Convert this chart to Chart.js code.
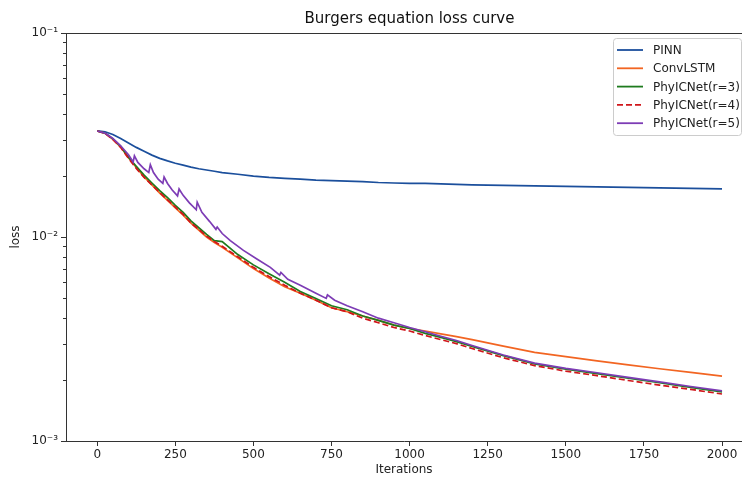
<!DOCTYPE html>
<html>
<head>
<meta charset="utf-8">
<title>Burgers equation loss curve</title>
<script src="https://cdn.jsdelivr.net/npm/chart.js@4.4.1/dist/chart.umd.min.js"></script>
<style>
  html, body { margin: 0; padding: 0; background: #fff; }
  #wrap { width: 742px; height: 478px; }
</style>
</head>
<body>
<div id="wrap"><canvas id="lossChart" width="742" height="478"></canvas></div>
<script>
// iteration grid shared by four of the curves
const iterations = [0, 25, 50, 75, 100, 125, 150, 175, 200, 225, 250, 275, 300, 325, 350, 375, 400,
  450, 500, 550, 600, 650, 700, 750, 800, 850, 900, 950, 1000, 1050, 1100, 1150, 1200,
  1300, 1400, 1500, 1600, 1700, 1800, 1900, 2000];

const pinnLoss = [0.0331, 0.0328, 0.0318, 0.0304, 0.0289, 0.0275, 0.0263, 0.0252, 0.0243, 0.0236, 0.0230, 0.0225, 0.0220, 0.0216, 0.0213, 0.0210, 0.0207,
  0.0203, 0.0199, 0.0196, 0.0194, 0.0192, 0.0190, 0.0189, 0.0188, 0.0187, 0.0185, 0.0184, 0.0183, 0.0183, 0.0182, 0.0181, 0.0180,
  0.0179, 0.0178, 0.0177, 0.0176, 0.0175, 0.0174, 0.0173, 0.0172];

const convLstmLoss = [0.0331, 0.0322, 0.0301, 0.0276, 0.0245, 0.0219, 0.0197, 0.0180, 0.0164, 0.0151, 0.0139, 0.0128, 0.0117, 0.0108, 0.0100, 0.0094, 0.0089,
  0.0079, 0.0070, 0.0063, 0.0057, 0.0053, 0.0049, 0.0045, 0.0043, 0.0041, 0.0039, 0.0037, 0.00356, 0.00346, 0.00335, 0.00325, 0.00314,
  0.00292, 0.00272, 0.00259, 0.00247, 0.00236, 0.00226, 0.00217, 0.00208];

const r3Loss = [0.0331, 0.0323, 0.0303, 0.0278, 0.0246, 0.0222, 0.0201, 0.0184, 0.0169, 0.0156, 0.0143, 0.0132, 0.0120, 0.0111, 0.0103, 0.0096, 0.0095,
  0.0082, 0.0073, 0.0066, 0.0060, 0.0054, 0.0050, 0.0046, 0.0044, 0.0041, 0.0039, 0.0037, 0.00356, 0.00337, 0.00322, 0.00307, 0.00291,
  0.00262, 0.00239, 0.00225, 0.00214, 0.00203, 0.00193, 0.00183, 0.00174];

const r4Loss = [0.0331, 0.0322, 0.0301, 0.0275, 0.0243, 0.0217, 0.0196, 0.0180, 0.0165, 0.0152, 0.0140, 0.0129, 0.0117, 0.0109, 0.0101, 0.0095, 0.0090,
  0.0080, 0.0071, 0.0064, 0.0058, 0.0053, 0.0049, 0.0045, 0.0043, 0.0040, 0.0038, 0.0036, 0.00346, 0.00329, 0.00314, 0.00300, 0.00284,
  0.00256, 0.00234, 0.00220, 0.00209, 0.00198, 0.00188, 0.00179, 0.00170];

// r=5 has its own sampling because of the spikes
const r5Iterations = [0, 25, 50, 75, 100, 115, 119, 130, 150, 165, 170, 180, 195, 210, 214, 225, 240, 257, 262, 275, 295, 317, 320,
  335, 360, 380, 384, 400, 426, 468, 511, 554, 584, 588, 610, 650, 700, 733, 737, 760, 800, 850, 900, 950, 1000,
  1050, 1100, 1150, 1200, 1300, 1400, 1500, 1600, 1700, 1800, 1900, 2000];
const r5Loss = [0.0331, 0.0323, 0.0304, 0.0280, 0.0253, 0.0233, 0.0250, 0.0232, 0.0216, 0.0207, 0.0226, 0.0207, 0.0192, 0.0183, 0.0197, 0.0183, 0.0170, 0.0159, 0.0172, 0.0160, 0.0147, 0.0136, 0.0148,
  0.0132, 0.0119, 0.0109, 0.0112, 0.0104, 0.0096, 0.0086, 0.0078, 0.0071, 0.0065, 0.0067, 0.0062, 0.0058, 0.0053, 0.0050, 0.0052, 0.0049, 0.0046, 0.0043, 0.0040, 0.0038, 0.0036,
  0.00343, 0.00326, 0.00311, 0.00294, 0.00264, 0.00241, 0.00227, 0.00216, 0.00205, 0.00195, 0.00185, 0.00176];

const xTicks = [0, 250, 500, 750, 1000, 1250, 1500, 1750, 2000];
const yMajor = [0.001, 0.01, 0.1];
const yMajorLabels = ['10⁻³', '10⁻²', '10⁻¹'];
const yMinor = [0.002, 0.003, 0.004, 0.005, 0.006, 0.007, 0.008, 0.009,
  0.02, 0.03, 0.04, 0.05, 0.06, 0.07, 0.08, 0.09];

const FONT = "'DejaVu Sans', sans-serif";
const AXES_RIGHT = 753; // the axes box runs a little past the right edge of the picture

function pts(xs, ys) {
  return xs.map((x, i) => ({ x: x, y: ys[i] }));
}

const series = [
  { label: 'PINN', color: '#1b4f9c', data: pts(iterations, pinnLoss), dash: [] },
  { label: 'ConvLSTM', color: '#f26522', data: pts(iterations, convLstmLoss), dash: [] },
  { label: 'PhyICNet(r=3)', color: '#1e7b1e', data: pts(iterations, r3Loss), dash: [] },
  { label: 'PhyICNet(r=4)', color: '#d0161b', data: pts(iterations, r4Loss), dash: [6, 3] },
  { label: 'PhyICNet(r=5)', color: '#7d3cb5', data: pts(r5Iterations, r5Loss), dash: [] },
];

// title over the axes, top frame line, minor y ticks and the legend box
const framePlugin = {
  id: 'framePlugin',
  afterDraw(chart) {
    const ctx = chart.ctx;
    const a = chart.chartArea;
    const yScale = chart.scales.y;
    ctx.save();

    ctx.fillStyle = '#111';
    ctx.font = '15px ' + FONT;
    ctx.textAlign = 'center';
    ctx.textBaseline = 'middle';
    ctx.fillText('Burgers equation loss curve', (a.left + AXES_RIGHT) / 2, a.top - 14);

    ctx.strokeStyle = '#333';
    ctx.lineWidth = 1;
    ctx.beginPath();
    ctx.moveTo(a.left, a.top + 0.5);
    ctx.lineTo(a.right, a.top + 0.5);
    ctx.stroke();

    ctx.beginPath();
    yMinor.forEach(v => {
      const py = Math.round(yScale.getPixelForValue(v)) + 0.5;
      ctx.moveTo(a.left - 3, py);
      ctx.lineTo(a.left, py);
    });
    ctx.stroke();

    const bx = a.right - 129, by = a.top + 5, bw = 128, bh = 97;
    ctx.fillStyle = 'rgba(255,255,255,0.85)';
    ctx.strokeStyle = '#cccccc';
    ctx.beginPath();
    ctx.roundRect(bx + 0.5, by + 0.5, bw, bh, 3);
    ctx.fill();
    ctx.stroke();

    ctx.font = '12px ' + FONT;
    ctx.textBaseline = 'middle';
    ctx.textAlign = 'left';
    chart.data.datasets.forEach((ds, i) => {
      const cy = by + 12 + i * 18.3;
      ctx.strokeStyle = ds.borderColor;
      ctx.lineWidth = 1.8;
      ctx.setLineDash(ds.borderDash || []);
      ctx.beginPath();
      ctx.moveTo(bx + 4, cy);
      ctx.lineTo(bx + 30, cy);
      ctx.stroke();
      ctx.setLineDash([]);
      ctx.fillStyle = '#222';
      ctx.fillText(ds.label, bx + 40, cy + 1);
    });
    ctx.restore();
  }
};

new Chart(document.getElementById('lossChart'), {
  type: 'line',
  data: {
    datasets: series.map((s, i) => ({
      label: s.label,
      data: s.data,
      borderColor: s.color,
      backgroundColor: s.color,
      borderWidth: 1.7,
      borderDash: s.dash,
      pointRadius: 0,
      tension: 0,
      fill: false,
      order: series.length - i,
    })),
  },
  options: {
    responsive: false,
    animation: false,
    layout: { padding: { top: 33, left: 0, right: 0, bottom: 0 } },
    plugins: {
      legend: { display: false },
      tooltip: { enabled: false },
      title: { display: false },
    },
    scales: {
      x: {
        type: 'linear',
        min: -100,
        max: 2064,
        afterFit: s => { s.height = 37; },
        afterBuildTicks: s => { s.ticks = xTicks.map(v => ({ value: v })); },
        grid: { drawOnChartArea: false, tickLength: 5, color: '#333', tickColor: '#333' },
        border: { color: '#333', width: 1 },
        ticks: {
          color: '#222', font: { family: FONT, size: 12 }, padding: 2, maxRotation: 0, autoSkip: false,
          callback: v => String(v),
        },
        title: {
          display: true, text: 'Iterations', color: '#222',
          font: { family: FONT, size: 12 }, padding: { top: 0, bottom: 1 },
        },
      },
      y: {
        type: 'logarithmic',
        min: 0.001,
        max: 0.1,
        afterFit: s => { s.width = 66; },
        afterBuildTicks: s => { s.ticks = yMajor.map(v => ({ value: v })); },
        grid: { drawOnChartArea: false, tickLength: 5, color: '#333', tickColor: '#333' },
        border: { color: '#333', width: 1 },
        ticks: {
          color: '#222',
          font: { family: FONT, size: 12 },
          padding: 3,
          autoSkip: false,
          callback: v => {
            const k = yMajor.findIndex(m => Math.abs(m - v) < m * 1e-6);
            return k >= 0 ? yMajorLabels[k] : '';
          },
        },
        title: {
          display: true, text: 'loss', color: '#222',
          font: { family: FONT, size: 12 }, padding: { top: 9, bottom: 0 },
        },
      },
    },
  },
  plugins: [framePlugin],
});
</script>
</body>
</html>
